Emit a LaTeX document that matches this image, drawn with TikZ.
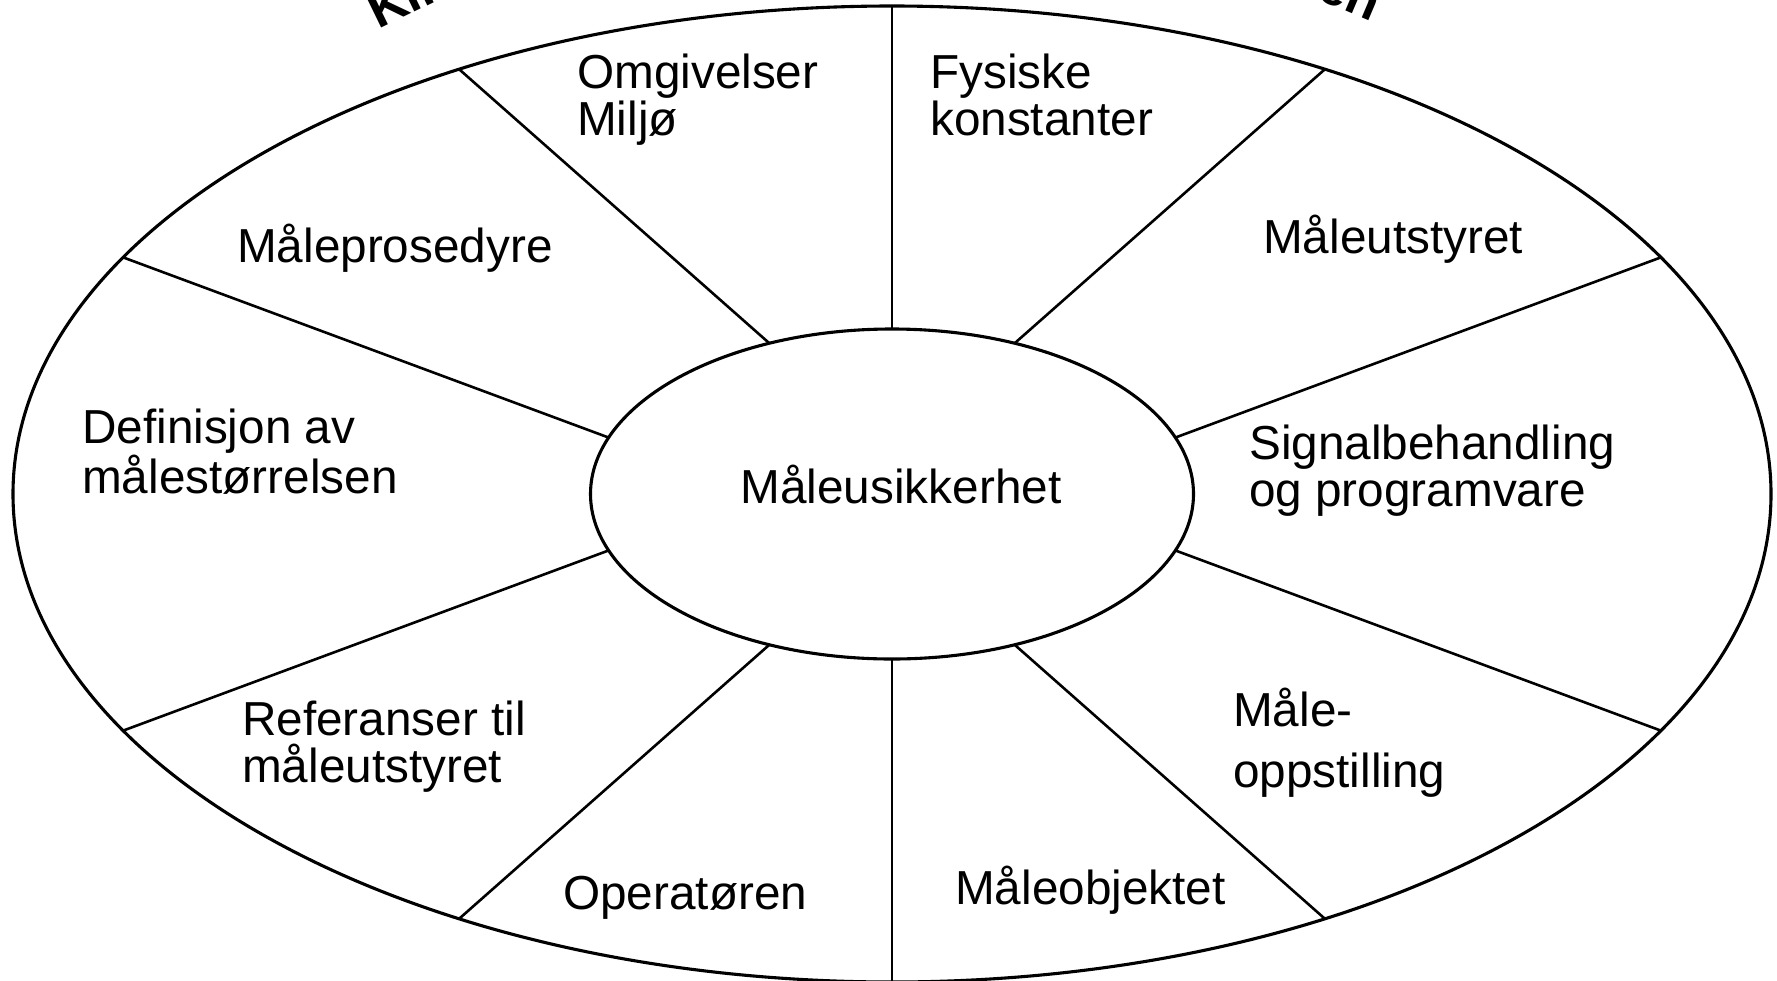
\documentclass[tikz,border=0pt]{standalone}
\usepackage{fontspec}
\setmainfont{Liberation Sans}
\usetikzlibrary{calc,shapes.geometric}
\begin{document}
\begin{tikzpicture}[x=1pt,y=-1pt,
  rim/.style={line width=3.1pt},
  spoke/.style={line width=2.6pt},
  lbl/.style={anchor=base west, align=left, inner sep=0pt, font=\fontsize{47.7}{47}\selectfont},
  ttl/.style={inner sep=0pt, font=\bfseries\fontsize{52}{52}\selectfont}]
\useasboundingbox (0,0) rectangle (1777,980);
\coordinate (C) at (892,494);
% outer ellipse
\draw[rim] (C) ellipse [x radius=879pt, y radius=488pt];
% inner ellipse
\node[draw, ellipse, rim, minimum width=603pt, minimum height=330pt, inner sep=0pt] (core) at (C) {};
% spoke end points
\foreach \n/\a/\b in {1/90/90, 2/114/119.5, 3/160/151, 4/200/209, 5/246/240.5,
                      6/270/270, 7/294/299.5, 8/340/331, 9/20/29, 10/66/60.5}{
  \coordinate (i\n) at ($(C)+(\a:301.5pt and 165pt)$);
  \coordinate (o\n) at ($(C)+(\b:879pt and 488pt)$);
}
\foreach \n in {1,...,10}{ \draw[spoke] (i\n) -- (o\n); }
% labels (base anchor of a multi-line node = baseline of its last line)
\node[lbl] (omg) at (577,135) {Omgivelser\\Miljø};
\node[lbl] (fys) at (930,135) {Fysiske\\konstanter};
\node[lbl] (proc) at (237,262) {Måleprosedyre};
\node[lbl] (uts) at (1263,253) {Måleutstyret};
\node[lbl] (def) at (82,493) {Definisjon av\\målestørrelsen};
\node[lbl] (sig) at (1249,506) {Signalbehandling\\og programvare};
\node[lbl] (ref) at (242,782) {Referanser til\\måleutstyret};
\node[lbl] (opp) at (1233,787) {Måle-\\[14pt]oppstilling};
\node[lbl] (oper) at (563,909) {Operatøren};
\node[lbl] (obj) at (955,904) {Måleobjektet};
\node[lbl, anchor=base] (mu) at (901,503) {Måleusikkerhet};
% clipped title fragments
\node[ttl, anchor=base west, rotate=26] (tK) at (378,30) {Kil};
\node[ttl, anchor=base east, rotate=-23] (tEn) at (1372,22) {en};
\end{tikzpicture}
\end{document}
